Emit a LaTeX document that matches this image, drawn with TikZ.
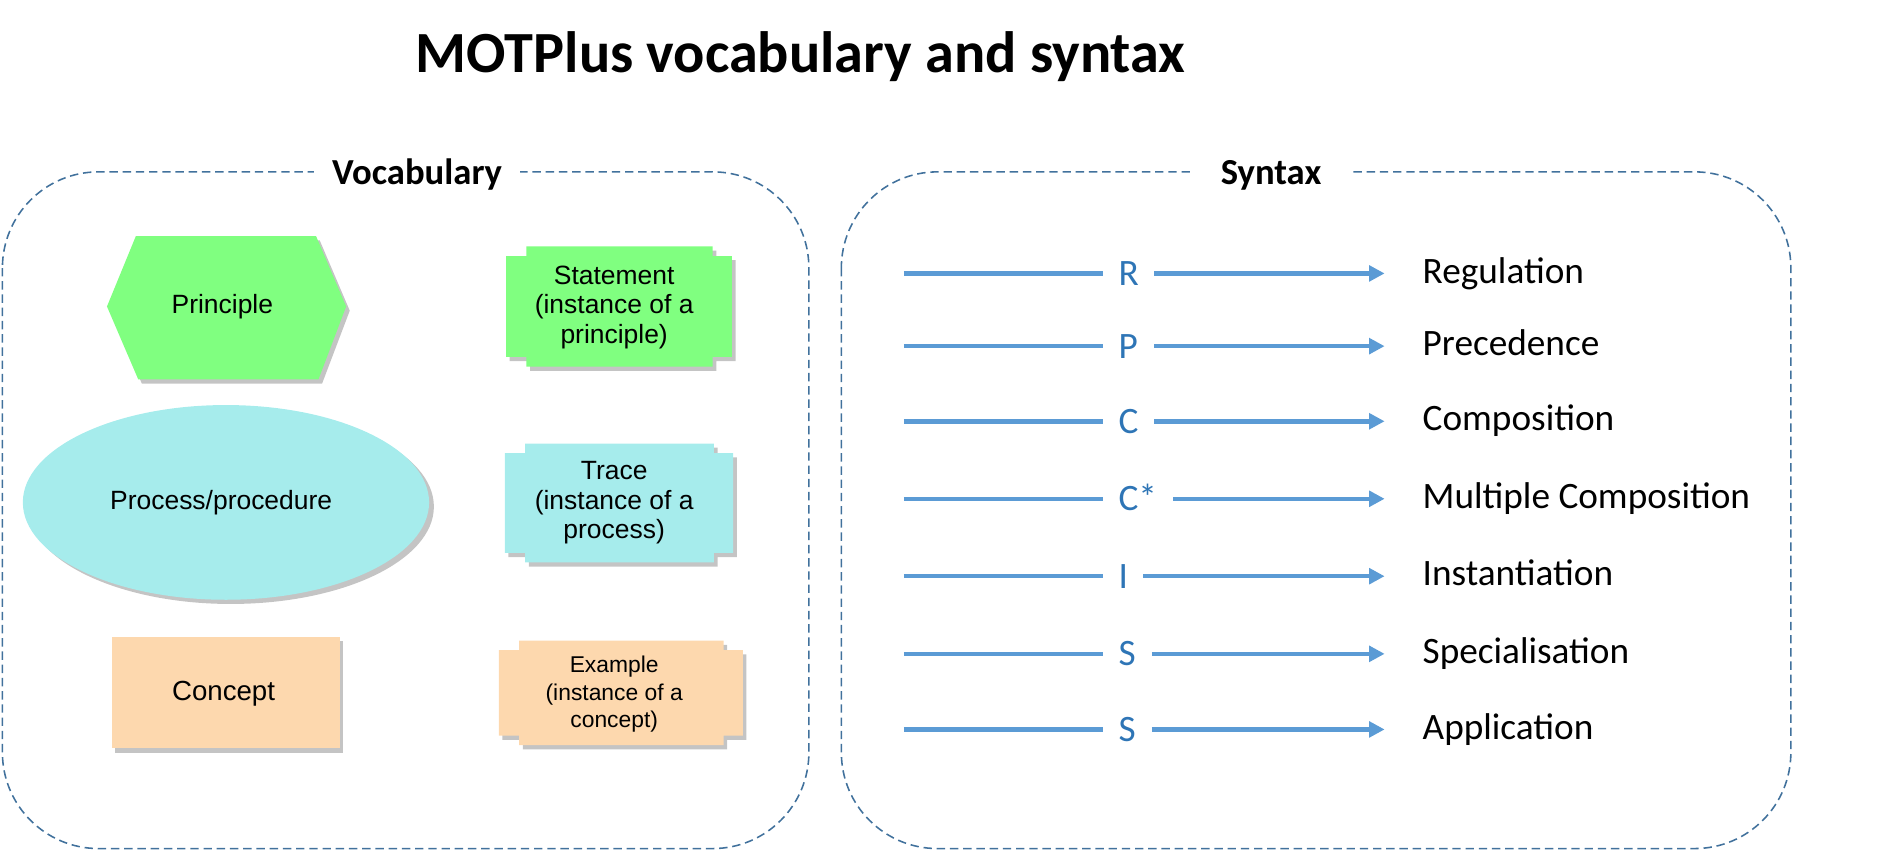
\documentclass[tikz,border=0pt]{standalone}
\usepackage{fontspec}
\setmainfont{Liberation Sans}
\newfontfamily\calibri{Carlito}
\usetikzlibrary{arrows.meta,shapes.geometric}
\definecolor{boxblue}{HTML}{41719C}
\definecolor{relblue}{HTML}{5B9BD5}
\definecolor{letblue}{HTML}{2E75B6}
\definecolor{pgreen}{HTML}{80FF80}
\definecolor{pcyan}{HTML}{A6ECEC}
\definecolor{ppeach}{HTML}{FDD8AE}
\definecolor{shad}{HTML}{C4C4C4}
\newcommand\mynotch[4]{(#1+17,#2) -- (#3-16,#2) -- (#3-16,#2+8) -- (#3,#2+8) -- (#3,#4-8) -- (#3-16,#4-8) -- (#3-16,#4) -- (#1+17,#4) -- (#1+17,#4-8) -- (#1,#4-8) -- (#1,#2+8) -- (#1+17,#2+8) -- cycle}
\tikzset{
  dashbox/.style={draw=boxblue, line width=1.3pt, dash pattern=on 7pt off 4pt, rounded corners=80pt},
  grouplabel/.style={font=\calibri\bfseries\fontsize{30.5}{36}\selectfont, fill=white, inner ysep=2pt, anchor=base},
  shadowfill/.style={fill=shad, xshift=3pt, yshift=-3.5pt},
  shapetext/.style={font=\fontsize{22}{24.5}\selectfont, align=center, inner sep=0pt},
  relline/.style={draw=relblue, line width=3.8pt},
  relletter/.style={font=\calibri\fontsize{31}{34}\selectfont, text=letblue, inner sep=0pt, anchor=base west},
  rellabel/.style={font=\calibri\fontsize{31}{36}\selectfont, inner sep=0pt, anchor=base west},
}
\begin{document}
\begin{tikzpicture}[x=1pt, y=-1pt]
\useasboundingbox (0,0) rectangle (1567.5,708);

% title
\node[font=\calibri\bfseries\fontsize{48.5}{54}\selectfont, anchor=base, inner sep=0pt] (title) at (666,60) {MOTPlus vocabulary and syntax};

% group boxes
\draw[dashbox] (2,143) rectangle (673,706);
\draw[dashbox] (700,143) rectangle (1490,706);
\node[grouplabel, inner xsep=15pt] (vocab) at (347,153.5) {Vocabulary};
\node[grouplabel, inner xsep=25pt] (syntax) at (1057.5,153.5) {Syntax};

% Principle hexagon
\fill[shadowfill] (113,196.5) -- (263,196.5) -- (288,255) -- (265,315.6) -- (115,315.6) -- (89,255) -- cycle;
\fill[pgreen] (113,196.5) -- (263,196.5) -- (288,255) -- (265,315.6) -- (115,315.6) -- (89,255) -- cycle;
\node[shapetext] (principle) at (185,255) {Principle};

% Statement
\fill[shadowfill] \mynotch{421}{205}{609}{305};
\fill[pgreen] \mynotch{421}{205}{609}{305};
\node[shapetext] (statement) at (511,255.5) {Statement\\(instance of a\\principle)};

% Process ellipse
\fill[shad] (192,421.5) ellipse [x radius=169pt, y radius=81pt];
\fill[pcyan] (188,418) ellipse [x radius=169pt, y radius=81pt];
\node[shapetext] (process) at (184,418) {Process/procedure};

% Trace
\fill[shadowfill] \mynotch{420}{369}{610}{468};
\fill[pcyan] \mynotch{420}{369}{610}{468};
\node[shapetext] (trace) at (511,418.5) {Trace\\(instance of a\\process)};

% Concept
\fill[shadowfill] (93,530) rectangle (282.5,622.7);
\fill[ppeach] (93,530) rectangle (282.5,622.7);
\node[shapetext, font=\fontsize{23}{26}\selectfont] (concept) at (186,577) {Concept};

% Example
\fill[shadowfill] \mynotch{415}{533}{618}{620};
\fill[ppeach] \mynotch{415}{533}{618}{620};
\node[shapetext, font=\fontsize{19}{23}\selectfont] (example) at (511,577.5) {Example\\(instance of a\\concept)};

% syntax rows
\foreach \n/\y/\l/\s/\t in {1/227.5/R/960.5/Regulation, 2/288/P/960.5/Precedence, 3/350.5/C/960.5/Composition, 4/415/C*/976/Multiple Composition, 5/479.4/I/951/Instantiation, 6/544/S/958.3/Specialisation, 7/606.9/S/958.3/Application} {
  \coordinate (a\n) at (752,\y);
  \coordinate (b\n) at (918,\y);
  \coordinate (c\n) at (\s,\y);
  \coordinate (d\n) at (1152,\y);
  \node[relletter] (l\n) at (930.5,\y+10) {\l};
  \node[rellabel] (t\n) at (1183.5,\y+8) {\t};
  \draw[relline] (a\n) -- (b\n);
  \draw[relline, -{Triangle[length=13pt, width=13pt]}] (c\n) -- (d\n);
}
\end{tikzpicture}
\end{document}
